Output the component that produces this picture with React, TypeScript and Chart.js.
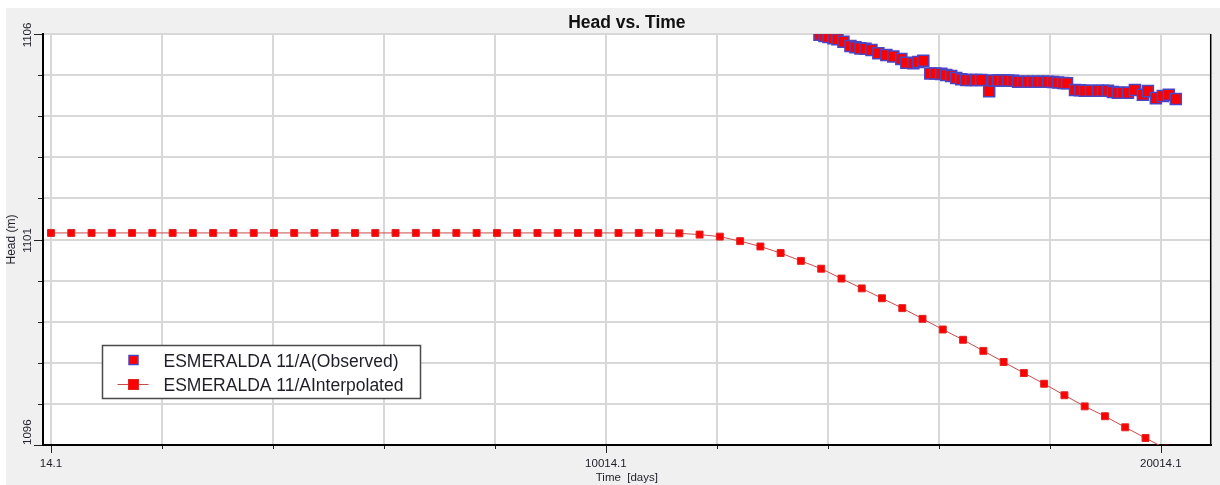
import React, { useEffect, useRef } from "react";
import { Chart, registerables } from "chart.js";

Chart.register(...registerables);

const chartTitle = "Head vs. Time";
const xAxisTitle = "Time  [days]";
const yAxisTitle = "Head (m)";
const observedLabel = "ESMERALDA 11/A(Observed)";
const interpolatedLabel = "ESMERALDA 11/AInterpolated";

const interpolatedTimes = [
  14, 379, 745, 1110, 1475, 1840, 2206, 2571, 2936, 3301, 3667, 4032, 4397, 4762,
  5128, 5493, 5858, 6223, 6589, 6954, 7319, 7684, 8050, 8415, 8780, 9145, 9511,
  9876, 10241, 10606, 10972, 11337, 11702, 12067, 12433, 12798, 13163, 13528,
  13894, 14259, 14624, 14989, 15355, 15720, 16085, 16450, 16816, 17181, 17546,
  17911, 18277, 18642, 19007, 19372, 19738, 20103,
];
const interpolatedHeads = [
  1101.16, 1101.16, 1101.16, 1101.16, 1101.16, 1101.16, 1101.16, 1101.16, 1101.16,
  1101.16, 1101.16, 1101.16, 1101.16, 1101.16, 1101.16, 1101.16, 1101.16, 1101.16,
  1101.16, 1101.16, 1101.16, 1101.16, 1101.16, 1101.16, 1101.16, 1101.16, 1101.16,
  1101.16, 1101.16, 1101.16, 1101.16, 1101.15, 1101.12, 1101.07, 1100.96, 1100.83,
  1100.67, 1100.48, 1100.29, 1100.05, 1099.81, 1099.57, 1099.33, 1099.07, 1098.81,
  1098.56, 1098.29, 1098.02, 1097.75, 1097.49, 1097.21, 1096.94, 1096.7, 1096.43,
  1096.17, 1095.91,
];

const observedTimes = [
  13863, 13953, 14025, 14115, 14187, 14295, 14421, 14511, 14601, 14691, 14799, 14924,
  15068, 15194, 15338, 15428, 15554, 15644, 15734, 15860, 15950, 16058, 16147, 16237,
  16327, 16417, 16507, 16597, 16687, 16777, 16921, 16993, 17083, 17173, 17263, 17353,
  17442, 17532, 17622, 17712, 17802, 17892, 17982, 18072, 18162, 18252, 18324, 18468,
  18558, 18647, 18755, 18881, 18971, 19061, 19151, 19241, 19331, 19421, 19547, 19691,
  19781, 19925, 20050, 20158, 20284,
];
const observedHeads = [
  1105.98, 1105.95, 1105.93, 1105.9, 1105.87, 1105.81, 1105.71, 1105.68, 1105.65,
  1105.64, 1105.61, 1105.53, 1105.49, 1105.45, 1105.39, 1105.3, 1105.29, 1105.32,
  1105.35, 1105.04, 1105.04, 1105.03, 1105.0, 1104.98, 1104.93, 1104.9, 1104.88,
  1104.88, 1104.88, 1104.88, 1104.61, 1104.87, 1104.87, 1104.87, 1104.87, 1104.86,
  1104.84, 1104.84, 1104.84, 1104.84, 1104.84, 1104.84, 1104.84, 1104.83, 1104.82,
  1104.81, 1104.8, 1104.64, 1104.63, 1104.62, 1104.62, 1104.62, 1104.62, 1104.62,
  1104.59, 1104.57, 1104.57, 1104.57, 1104.64, 1104.52, 1104.61, 1104.44, 1104.49,
  1104.52, 1104.42,
];

const xTickValues = [
  14.1, 2014.1, 4014.1, 6014.1, 8014.1, 10014.1, 12014.1, 14014.1, 16014.1, 18014.1, 20014.1,
];
const xTickLabels = ["14.1", "", "", "", "", "10014.1", "", "", "", "", "20014.1"];
const yTickValues = [1096, 1097, 1098, 1099, 1100, 1101, 1102, 1103, 1104, 1105, 1106];
const yTickLabels = ["1096", "", "", "", "", "1101", "", "", "", "", "1106"];

const xMin = -130;
const xMax = 20913;
const yMin = 1096;
const yMax = 1106;

const FONT = "'Liberation Sans', Arial, sans-serif";
const TEXT_COLOR = "#1e1e28";

const decorPlugin = {
  id: "decor",
  beforeDraw(chart: any) {
    const { ctx, chartArea } = chart;
    ctx.save();
    ctx.fillStyle = "#ffffff";
    ctx.fillRect(chartArea.left, chartArea.top, chartArea.right - chartArea.left, chartArea.bottom - chartArea.top);
    ctx.restore();
  },
  afterDraw(chart: any) {
    const { ctx, chartArea } = chart;
    const xs = chart.scales.x;
    const ys = chart.scales.y;
    ctx.save();

    // right border
    ctx.strokeStyle = "#000000";
    ctx.lineWidth = 1.5;
    ctx.beginPath();
    ctx.moveTo(chartArea.right, chartArea.top);
    ctx.lineTo(chartArea.right, chartArea.bottom + 1);
    ctx.stroke();

    // tick marks
    ctx.strokeStyle = "#222222";
    ctx.lineWidth = 1;
    xTickValues.forEach((v, i) => {
      const px = Math.round(xs.getPixelForValue(v)) + 0.5;
      const len = xTickLabels[i] ? 7 : 3;
      ctx.beginPath();
      ctx.moveTo(px, chartArea.bottom + 1);
      ctx.lineTo(px, chartArea.bottom + 1 + len);
      ctx.stroke();
    });
    yTickValues.forEach((v, i) => {
      const py = Math.round(ys.getPixelForValue(v)) + 0.5;
      const len = yTickLabels[i] ? 8 : 4;
      ctx.beginPath();
      ctx.moveTo(chartArea.left - 1 - len, py);
      ctx.lineTo(chartArea.left - 1, py);
      ctx.stroke();
    });

    ctx.fillStyle = TEXT_COLOR;
    // x tick labels
    ctx.font = `11.5px ${FONT}`;
    ctx.textAlign = "center";
    ctx.textBaseline = "alphabetic";
    xTickValues.forEach((v, i) => {
      if (!xTickLabels[i]) return;
      ctx.fillText(xTickLabels[i], xs.getPixelForValue(v), chartArea.bottom + 21.5);
    });
    // x title
    ctx.fillText(xAxisTitle, (chartArea.left + chartArea.right) / 2, chartArea.bottom + 35.5);

    // y tick labels (rotated)
    yTickValues.forEach((v, i) => {
      if (!yTickLabels[i]) return;
      const py = ys.getPixelForValue(v);
      ctx.save();
      ctx.translate(chartArea.left - 12, py);
      ctx.rotate(-Math.PI / 2);
      ctx.textBaseline = "alphabetic";
      if (i === 0) {
        ctx.textAlign = "left";
        ctx.fillText(yTickLabels[i], 0, 0);
      } else {
        ctx.textAlign = "center";
        ctx.fillText(yTickLabels[i], -1, 0);
      }
      ctx.restore();
    });
    // y title
    ctx.save();
    ctx.font = `12px ${FONT}`;
    ctx.translate(chartArea.left - 28, (chartArea.top + chartArea.bottom) / 2);
    ctx.rotate(-Math.PI / 2);
    ctx.textAlign = "center";
    ctx.textBaseline = "alphabetic";
    ctx.fillText(yAxisTitle, 0, 0);
    ctx.restore();

    // title
    ctx.font = `bold 17.5px ${FONT}`;
    ctx.textAlign = "center";
    ctx.textBaseline = "alphabetic";
    ctx.fillStyle = "#111111";
    ctx.fillText(chartTitle, (chartArea.left + chartArea.right) / 2, chartArea.top - 6.5);

    // legend
    const lx = chartArea.left + 59.5;
    const ly = chartArea.top + 311.5;
    const lw = 318;
    const lh = 53;
    ctx.fillStyle = "#ffffff";
    ctx.fillRect(lx, ly, lw, lh);
    ctx.strokeStyle = "#4a4a4a";
    ctx.lineWidth = 1.5;
    ctx.strokeRect(lx, ly, lw, lh);

    const ds0 = chart.data.datasets[0];
    const ds1 = chart.data.datasets[1];
    const mx = lx + 31;
    const r1 = ly + 14.5;
    const r2 = ly + 38.5;
    // observed marker
    ctx.fillStyle = ds0.pointBackgroundColor;
    ctx.fillRect(mx - 4.5, r1 - 4.5, 9, 9);
    ctx.strokeStyle = ds0.pointBorderColor;
    ctx.lineWidth = 1.5;
    ctx.strokeRect(mx - 4.5, r1 - 4.5, 9, 9);
    // interpolated line + marker
    ctx.strokeStyle = ds1.borderColor;
    ctx.lineWidth = 1;
    ctx.beginPath();
    ctx.moveTo(mx - 16, r2 + 0.5);
    ctx.lineTo(mx + 15, r2 + 0.5);
    ctx.stroke();
    ctx.fillStyle = ds1.pointBackgroundColor;
    ctx.fillRect(mx - 5, r2 - 4.5, 10, 10);
    ctx.strokeStyle = ds1.pointBorderColor;
    ctx.strokeRect(mx - 5, r2 - 4.5, 10, 10);

    ctx.fillStyle = TEXT_COLOR;
    ctx.font = `17.5px ${FONT}`;
    ctx.textAlign = "left";
    ctx.textBaseline = "alphabetic";
    ctx.fillText(ds0.label, lx + 61, r1 + 6.5);
    ctx.fillText(ds1.label, lx + 61, r2 + 6.5);

    ctx.restore();
  },
};

export default function App() {
  const ref = useRef<HTMLCanvasElement>(null);

  useEffect(() => {
    const canvas = ref.current;
    if (!canvas) return;
    const chart = new Chart(canvas, {
      type: "line",
      data: {
        datasets: [
          {
            label: observedLabel,
            data: observedTimes.map((t, i) => ({ x: t, y: observedHeads[i] })),
            showLine: false,
            pointStyle: "rect",
            pointRadius: 7.8,
            pointBackgroundColor: "#ff0000",
            pointBorderColor: "#4a46c4",
            pointBorderWidth: 1.5,
            clip: 0,
          },
          {
            label: interpolatedLabel,
            data: interpolatedTimes.map((t, i) => ({ x: t, y: interpolatedHeads[i] })),
            borderColor: "#c84a4a",
            borderWidth: 1,
            pointStyle: "rect",
            pointRadius: 4.9,
            pointBackgroundColor: "#ff0000",
            pointBorderColor: "#e02424",
            pointBorderWidth: 1,
            tension: 0,
            clip: 0,
          },
        ],
      } as any,
      options: {
        responsive: false,
        animation: false,
        devicePixelRatio: 1,
        events: [],
        layout: { padding: { left: 7, right: 7, top: 26, bottom: 10 } },
        plugins: {
          legend: { display: false },
          title: { display: false },
          tooltip: { enabled: false },
        },
        scales: {
          x: {
            type: "linear",
            min: xMin,
            max: xMax,
            afterBuildTicks: (s: any) => {
              s.ticks = xTickValues.map((v) => ({ value: v }));
            },
            afterFit: (s: any) => {
              s.height = 30;
            },
            ticks: { display: false },
            grid: { color: "#d8d8d8", lineWidth: 2, drawTicks: false },
            border: { display: true, color: "#000000", width: 2 },
          },
          y: {
            type: "linear",
            min: yMin,
            max: yMax,
            afterBuildTicks: (s: any) => {
              s.ticks = yTickValues.map((v) => ({ value: v }));
            },
            afterFit: (s: any) => {
              s.width = 30;
            },
            ticks: { display: false },
            grid: { color: "#d8d8d8", lineWidth: 2, drawTicks: false },
            border: { display: true, color: "#000000", width: 2 },
          },
        },
      } as any,
      plugins: [decorPlugin],
    });
    return () => chart.destroy();
  }, []);

  return (
    <div
      style={{
        position: "fixed",
        left: 0,
        top: 0,
        width: 1220,
        height: 485,
        background: "#ffffff",
        overflow: "hidden",
      }}
    >
      <canvas
        ref={ref}
        width={1214}
        height={477}
        style={{ position: "absolute", left: 6, top: 8, background: "#f0f0f0" }}
      />
    </div>
  );
}
